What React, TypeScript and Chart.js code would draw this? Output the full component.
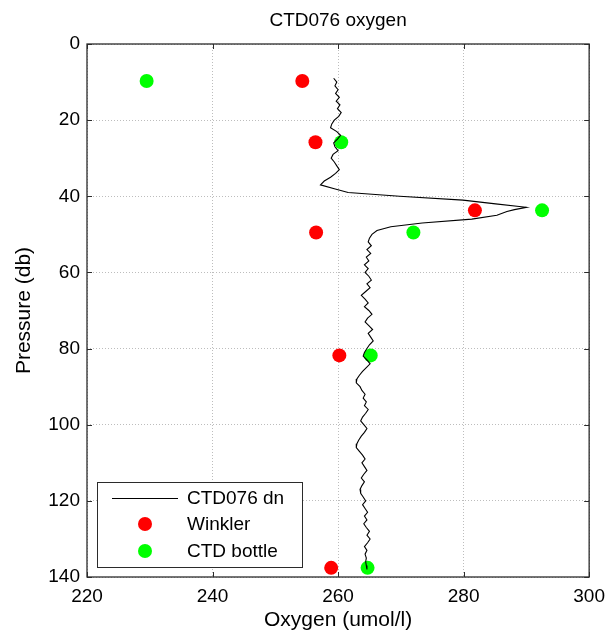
import React, { useEffect, useRef } from "react";
import { Chart, registerables } from "chart.js";

Chart.register(...registerables);

const TITLE = "CTD076 oxygen";
const X_TITLE = "Oxygen (umol/l)";
const Y_TITLE = "Pressure (db)";
const X_TICKS = [220, 240, 260, 280, 300];
const Y_TICKS = [0, 20, 40, 60, 80, 100, 120, 140];

const CTD_LABEL = "CTD076 dn";
const CTD_PRESSURE = [
  9, 10, 11, 12, 13, 14, 15, 16, 17, 18, 19, 20, 21, 22, 23, 24, 25, 26, 27, 28,
  29, 30, 31, 32, 33, 34, 35, 36, 37, 38, 39, 40, 41, 42, 42.9, 43.5, 44, 45, 46,
  47, 48, 49, 50, 51, 52, 53, 54, 55, 56, 57, 58, 59, 60, 61, 62, 63, 64, 65, 66,
  67, 68, 69, 70, 71, 72, 73, 74, 75, 76, 77, 78, 79, 80, 81, 82, 83, 84, 85, 86,
  87, 88, 89, 90, 91, 92, 93, 94, 95, 96, 97, 98, 99, 100, 101, 102, 103, 104,
  105, 106, 107, 108, 109, 110, 111, 112, 113, 114, 115, 116, 117, 118, 119, 120,
  121, 122, 123, 124, 125, 126, 127, 128, 129, 130, 131, 132, 133, 134, 135, 136,
  137, 138,
];
const CTD_OXYGEN = [
  259.3, 259.8, 259.5, 260.0, 259.6, 260.2, 259.7, 260.3, 259.9, 260.5, 260.1,
  259.4, 259.0, 258.8, 259.8, 260.4, 259.9, 259.3, 259.5, 260.0, 259.2, 258.9,
  259.4, 259.8, 260.2, 259.6, 258.8, 257.8, 257.2, 259.4, 261.6, 269.8, 279.9,
  285.1, 290.0, 288.1, 286.9, 285.3, 281.3, 273.4, 268.4, 266.2, 265.4, 265.0,
  264.8, 265.3, 264.6, 265.2, 264.5, 264.9, 264.2, 264.8, 264.3, 264.9, 265.3,
  264.6, 265.1, 264.4, 263.7, 264.3, 264.8, 264.2, 264.9, 265.4, 264.7, 264.3,
  264.9, 265.5, 264.8, 265.2, 265.6, 265.0, 264.6, 264.2, 264.0, 264.6, 265.1,
  264.5, 263.9, 263.4, 263.0, 262.9, 263.5, 263.8, 264.3, 264.0, 264.5, 264.2,
  264.8, 264.4, 263.9, 263.6, 264.1, 264.6, 264.2, 263.7, 263.3, 263.0, 262.9,
  263.4, 263.9, 264.3, 263.8, 264.2, 264.6, 264.1, 263.7, 264.2, 263.8, 263.5,
  263.6, 264.0, 264.4, 263.9, 264.3, 264.7, 264.2, 264.6, 264.1, 264.5, 265.0,
  264.6, 265.1, 264.7, 264.2, 264.6, 264.3, 264.5, 264.4, 264.5, 264.6,
];

const WINKLER_LABEL = "Winkler";
const WINKLER_PRESSURE = [9.7, 25.8, 43.7, 49.5, 81.8, 137.6];
const WINKLER_OXYGEN = [254.3, 256.4, 281.8, 256.5, 260.2, 258.9];

const BOTTLE_LABEL = "CTD bottle";
const BOTTLE_PRESSURE = [9.7, 25.8, 43.7, 49.5, 81.8, 137.6];
const BOTTLE_OXYGEN = [229.5, 260.5, 292.5, 272.0, 265.2, 264.7];

const FONT = "'Liberation Sans', Arial, Helvetica, sans-serif";
const FRAME = "#2b2b2b";

const framePlugin = {
  id: "matlabFrame",
  afterDatasetsDraw(chart: any) {
    const { ctx, chartArea: a, scales } = chart;
    const tl = 5;
    ctx.save();
    ctx.strokeStyle = FRAME;
    ctx.lineWidth = 1;
    ctx.beginPath();
    for (const v of X_TICKS) {
      const x = Math.round(scales.x.getPixelForValue(v)) + 0.5;
      ctx.moveTo(x, a.bottom);
      ctx.lineTo(x, a.bottom - tl);
      ctx.moveTo(x, a.top);
      ctx.lineTo(x, a.top + tl);
    }
    for (const v of Y_TICKS) {
      const y = Math.round(scales.y.getPixelForValue(v)) + 0.5;
      ctx.moveTo(a.left, y);
      ctx.lineTo(a.left + tl, y);
      ctx.moveTo(a.right, y);
      ctx.lineTo(a.right - tl, y);
    }
    ctx.stroke();
    ctx.lineWidth = 1.3;
    ctx.strokeRect(a.left, a.top, a.right - a.left, a.bottom - a.top);
    ctx.restore();
  },
};

const titlePlugin = {
  id: "plotTitle",
  afterDraw(chart: any) {
    const { ctx, chartArea: a } = chart;
    ctx.save();
    ctx.font = `19px ${FONT}`;
    ctx.fillStyle = "#000000";
    ctx.textAlign = "center";
    ctx.textBaseline = "middle";
    ctx.fillText(TITLE, (a.left + a.right) / 2, 21);
    ctx.restore();
  },
};

const legendPlugin = {
  id: "boxLegend",
  afterDraw(chart: any) {
    const { ctx, chartArea: a } = chart;
    const w = 205;
    const h = 85;
    const x0 = a.left + 10;
    const y0 = a.bottom - 10 - h;
    ctx.save();
    ctx.fillStyle = "#ffffff";
    ctx.fillRect(x0, y0, w, h);
    ctx.strokeStyle = FRAME;
    ctx.lineWidth = 1;
    ctx.strokeRect(x0 + 0.5, y0 + 0.5, w, h);
    ctx.font = `19px ${FONT}`;
    ctx.textBaseline = "middle";
    ctx.textAlign = "left";
    const rows = [16, 42, 69];
    chart.data.datasets.forEach((ds: any, i: number) => {
      const yc = y0 + rows[i];
      if (ds.showLine) {
        ctx.strokeStyle = ds.borderColor;
        ctx.lineWidth = ds.borderWidth;
        ctx.beginPath();
        ctx.moveTo(x0 + 15, yc + 0.5);
        ctx.lineTo(x0 + 81, yc + 0.5);
        ctx.stroke();
      } else {
        ctx.fillStyle = ds.backgroundColor;
        ctx.beginPath();
        ctx.arc(x0 + 48, yc, ds.pointRadius, 0, Math.PI * 2);
        ctx.fill();
      }
      ctx.fillStyle = "#000000";
      ctx.fillText(ds.label, x0 + 90, yc + 1);
    });
    ctx.restore();
  },
};

export default function App() {
  const ref = useRef<HTMLCanvasElement | null>(null);

  useEffect(() => {
    if (!ref.current) return;
    const ctdData = CTD_PRESSURE.map((p, i) => ({ x: CTD_OXYGEN[i], y: p }));
    const winkler = WINKLER_PRESSURE.map((p, i) => ({ x: WINKLER_OXYGEN[i], y: p }));
    const bottle = BOTTLE_PRESSURE.map((p, i) => ({ x: BOTTLE_OXYGEN[i], y: p }));

    const chart = new Chart(ref.current, {
      type: "scatter",
      data: {
        datasets: [
          {
            label: CTD_LABEL,
            data: ctdData,
            showLine: true,
            borderColor: "#000000",
            borderWidth: 1.1,
            pointRadius: 0,
            tension: 0,
          },
          {
            label: WINKLER_LABEL,
            data: winkler,
            backgroundColor: "#ff0000",
            borderWidth: 0,
            pointRadius: 7,
          },
          {
            label: BOTTLE_LABEL,
            data: bottle,
            backgroundColor: "#00ff00",
            borderWidth: 0,
            pointRadius: 7,
          },
        ],
      },
      options: {
        responsive: false,
        animation: false,
        layout: { padding: { top: 44, right: 20, left: 0, bottom: 0 } },
        plugins: {
          legend: { display: false },
          tooltip: { enabled: false },
          title: { display: false },
        },
        scales: {
          x: {
            type: "linear",
            min: 220,
            max: 300,
            afterBuildTicks: (s: any) => {
              s.ticks = X_TICKS.map((v) => ({ value: v }));
            },
            afterFit: (s: any) => {
              s.height = 60;
            },
            grid: { color: "#bdbdbd", drawTicks: false, lineWidth: 1 },
            border: { display: false, dash: [1, 2] },
            ticks: {
              color: "#000000",
              padding: 8,
              font: { family: FONT, size: 19 },
              maxRotation: 0,
            },
            title: {
              display: true,
              text: X_TITLE,
              color: "#000000",
              font: { family: FONT, size: 21 },
              padding: { top: 0, bottom: 4 },
            },
          },
          y: {
            type: "linear",
            min: 0,
            max: 140,
            reverse: true,
            afterBuildTicks: (s: any) => {
              s.ticks = Y_TICKS.map((v) => ({ value: v }));
            },
            afterFit: (s: any) => {
              s.width = 87;
            },
            grid: { color: "#bdbdbd", drawTicks: false, lineWidth: 1 },
            border: { display: false, dash: [1, 2] },
            ticks: {
              color: "#000000",
              padding: 7,
              font: { family: FONT, size: 19 },
            },
            title: {
              display: true,
              text: Y_TITLE,
              color: "#000000",
              font: { family: FONT, size: 21 },
              padding: { top: 12, bottom: 0 },
            },
          },
        },
      },
      plugins: [framePlugin, legendPlugin, titlePlugin],
    });
    return () => chart.destroy();
  }, []);

  return (
    <div style={{ position: "fixed", left: 0, top: 0, width: 613, height: 637, background: "#ffffff" }}>
      <canvas ref={ref} width={613} height={637} style={{ display: "block" }} />
    </div>
  );
}
